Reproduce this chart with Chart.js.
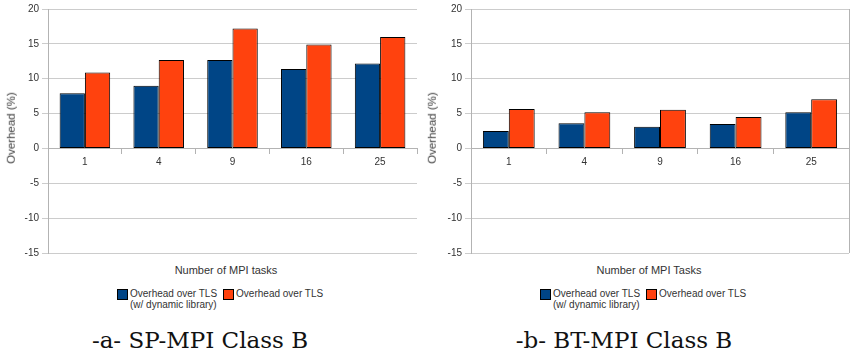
<!DOCTYPE html>
<html>
<head>
<meta charset="utf-8">
<script src="https://cdn.jsdelivr.net/npm/chart.js@4.4.0/dist/chart.umd.min.js"></script>
<style>
  body { margin: 0; background: #fff; width: 852px; height: 355px; position: relative; overflow: hidden; font-family: "Liberation Sans", Arial, sans-serif; }
  .box { position: absolute; top: 0; height: 262px; }
  .ytitle { position: absolute; font-size: 11.5px; color: #3a3a3a; transform: rotate(-90deg); transform-origin: center; white-space: nowrap; }
  .xtitle { position: absolute; font-size: 11px; color: #333; white-space: nowrap; transform: translateX(-50%); }
  .legend { position: absolute; font-size: 10px; color: #333; line-height: 11px; }
  .item { display: inline-block; vertical-align: top; margin-right: 6px; }
  .sw { display: inline-block; width: 9px; height: 9px; border: 1px solid #000; vertical-align: top; margin-top: 1px; margin-right: 2px; }
  .lbl { display: inline-block; vertical-align: top; }
  .caption { position: absolute; top: 327px; font-family: "DejaVu Serif", "Liberation Serif", serif; font-size: 23px; color: #111; white-space: nowrap; transform: translateX(-50%); }
</style>
</head>
<body>

<div class="box" style="left:0;width:420px"><canvas id="chartA"></canvas></div>
<div class="box" style="left:420px;width:432px"><canvas id="chartB"></canvas></div>

<div class="ytitle" style="left:-25px;top:122px">Overhead (%)</div>
<div class="ytitle" style="left:396px;top:122px">Overhead (%)</div>

<div class="xtitle" style="left:226px;top:264px">Number of MPI tasks</div>
<div class="xtitle" style="left:649px;top:264px">Number of MPI Tasks</div>

<div class="legend" style="left:117px;top:288px">
  <span class="item"><span class="sw" style="background:#004586"></span><span class="lbl">Overhead over TLS<br>(w/ dynamic library)</span></span><span class="item"><span class="sw" style="background:#ff420e"></span><span class="lbl">Overhead over TLS</span></span>
</div>
<div class="legend" style="left:540px;top:288px">
  <span class="item"><span class="sw" style="background:#004586"></span><span class="lbl">Overhead over TLS<br>(w/ dynamic library)</span></span><span class="item"><span class="sw" style="background:#ff420e"></span><span class="lbl">Overhead over TLS</span></span>
</div>

<div class="caption" style="left:200px">-a- SP-MPI Class B</div>
<div class="caption" style="left:624px">-b- BT-MPI Class B</div>

<script>
// Data
const tasks = ["1", "4", "9", "16", "25"];
const spDynamic = [7.9, 9.0, 12.7, 11.4, 12.2];
const spTls = [10.9, 12.7, 17.2, 14.9, 16.0];
const btDynamic = [2.5, 3.6, 3.1, 3.5, 5.2];
const btTls = [5.65, 5.2, 5.55, 4.5, 7.05];
const yTicks = [-15, -10, -5, 0, 5, 10, 15, 20];

const blue = "#004586";
const orange = "#ff420e";
const gridColor = "#cccccc";
const axisColor = "#b3b3b3";
const textColor = "#333333";

// right-hand frame line (only visible on second chart)
const rightFrame = {
  id: "rightFrame",
  afterDraw(chart, args, opts) {
    if (!opts.show) return;
    const { ctx, chartArea } = chart;
    ctx.save();
    ctx.strokeStyle = axisColor;
    ctx.lineWidth = 1;
    ctx.beginPath();
    ctx.moveTo(Math.round(chartArea.right) + 0.5, chartArea.top);
    ctx.lineTo(Math.round(chartArea.right) + 0.5, chartArea.bottom);
    ctx.stroke();
    ctx.restore();
  },
};

function makeChart(id, dyn, tls, axisWidth, frame) {
  const ctx = document.getElementById(id).getContext("2d");
  return new Chart(ctx, {
    type: "bar",
    data: {
      labels: tasks,
      datasets: [
        {
          label: "Overhead over TLS (w/ dynamic library)",
          data: dyn,
          backgroundColor: blue,
          borderColor: "#000",
          borderWidth: 1,
          borderSkipped: false,
        },
        {
          label: "Overhead over TLS",
          data: tls,
          backgroundColor: orange,
          borderColor: "#000",
          borderWidth: 1,
          borderSkipped: false,
        },
      ],
    },
    options: {
      responsive: true,
      maintainAspectRatio: false,
      animation: false,
      layout: { padding: { top: 8, bottom: 9, left: 0, right: 3 } },
      datasets: { bar: { categoryPercentage: 0.685, barPercentage: 1 } },
      scales: {
        x: {
          type: "category",
          position: { y: 0 },
          grid: {
            offset: true,
            drawOnChartArea: false,
            drawTicks: true,
            tickLength: 5,
            color: axisColor,
          },
          border: { color: axisColor },
          ticks: {
            color: textColor,
            font: { family: "Liberation Sans", size: 10 },
            padding: 3,
            maxRotation: 0,
          },
        },
        y: {
          min: -15,
          max: 20,
          afterBuildTicks: (scale) => {
            scale.ticks = yTicks.map((v) => ({ value: v }));
          },
          afterFit: (scale) => {
            scale.width = axisWidth;
          },
          grid: { color: gridColor, tickLength: 6, drawTicks: true, tickColor: gridColor },
          border: { color: axisColor },
          ticks: {
            color: textColor,
            font: { family: "Liberation Sans", size: 10 },
            padding: 3,
          },
        },
      },
      plugins: {
        legend: { display: false },
        tooltip: { enabled: false },
        rightFrame: { show: frame },
      },
    },
    plugins: [rightFrame],
  });
}

makeChart("chartA", spDynamic, spTls, 48, false);
makeChart("chartB", btDynamic, btTls, 51, true);
</script>
</body>
</html>
